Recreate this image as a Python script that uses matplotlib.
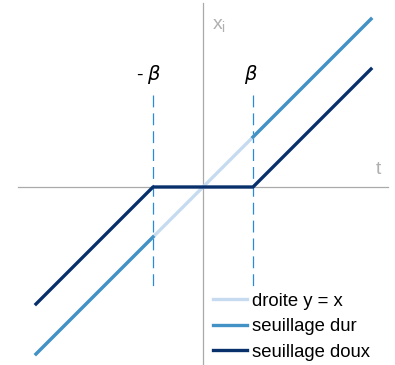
import matplotlib.pyplot as plt
import numpy as np

plt.rcParams['font.family'] = ['Liberation Sans', 'DejaVu Sans']

beta = 1.0
t_min, t_max = -3.34, 3.36
labels = ["droite y = x", "seuillage dur", "seuillage doux"]
colors = ["#c6dbef", "#4292c6", "#08306b"]

t = np.array([t_min, -beta, beta, t_max])
identity = t.copy()
hard_left = np.array([t_min, -beta])
hard_right = np.array([beta, t_max])
soft = np.sign(t) * np.maximum(np.abs(t) - beta, 0)

fig = plt.figure(figsize=(3.95, 3.65), dpi=100)
ax = fig.add_axes([0, 0, 1, 1])
ax.set_xlim(-4.06, 3.84)
ax.set_ylim(-3.56, 3.74)
ax.axis("off")

# axes cross
ax.plot([-3.7, 3.7], [0, 0], color="#aaaaaa", lw=0.9, zorder=1)
ax.plot([0, 0], [-3.6, 3.68], color="#aaaaaa", lw=0.9, zorder=1)

# threshold markers (drawn top to bottom so the dash starts at the top)
for b in (-beta, beta):
    ax.plot([b, b], [1.84, -2.06], color="#2b8ad8", lw=0.9, dashes=(9.5, 4.8), zorder=2)

ax.plot(t, identity, color=colors[0], lw=2.4, label=labels[0], zorder=3)
ax.plot(hard_left, hard_left, color=colors[1], lw=2.4, label=labels[1], zorder=4)
ax.plot(hard_right, hard_right, color=colors[1], lw=2.4, zorder=4)
ax.plot(t, soft, color=colors[2], lw=2.4, label=labels[2], zorder=5)

ax.text(-1.08, 2.24, r"- $\beta$", fontsize=14, ha="center", va="center")
ax.text(0.96, 2.24, r"$\beta$", fontsize=14, ha="center", va="center")
ax.text(0.18, 3.22, r"x$_\mathregular{i}$", fontsize=14, color="#b0b0b0", ha="left", va="center")
ax.text(3.5, 0.34, "t", fontsize=14, color="#b0b0b0", ha="center", va="center")

ax.legend(loc="lower left", bbox_to_anchor=(0.54, 0.012), frameon=False,
          fontsize=13.3, handlelength=1.8, handletextpad=0.3,
          borderpad=0, borderaxespad=0, labelspacing=0.46)

fig.savefig("out.png", dpi=100)
